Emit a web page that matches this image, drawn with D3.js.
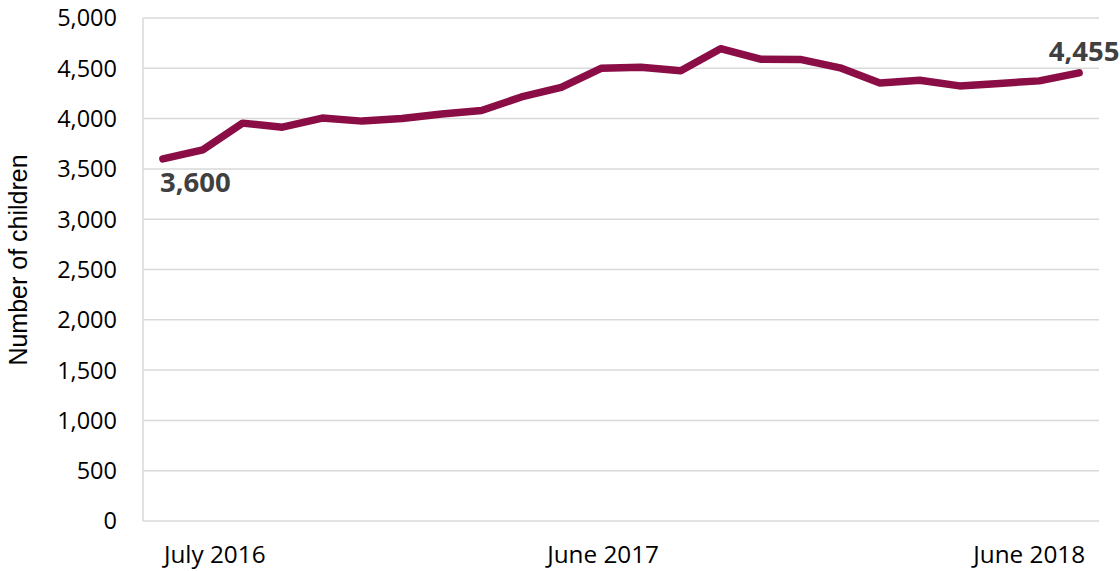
<!DOCTYPE html>
<html>
<head>
<meta charset="utf-8">
<script src="https://cdn.jsdelivr.net/npm/d3@7"></script>
<style>
  html, body { margin: 0; padding: 0; background: #fff; }
  svg { display: block; }
</style>
</head>
<body>
<svg id="chart" width="1120" height="571"></svg>
<script>
// ---- data ----
const months = [
  "Jul 2016","Aug 2016","Sep 2016","Oct 2016","Nov 2016","Dec 2016",
  "Jan 2017","Feb 2017","Mar 2017","Apr 2017","May 2017","Jun 2017",
  "Jul 2017","Aug 2017","Sep 2017","Oct 2017","Nov 2017","Dec 2017",
  "Jan 2018","Feb 2018","Mar 2018","Apr 2018","May 2018","Jun 2018"
];
const children = [
  3600, 3690, 3955, 3915, 4005, 3975,
  4000, 4045, 4080, 4215, 4310, 4500,
  4510, 4475, 4695, 4590, 4588, 4505,
  4355, 4382, 4325, 4350, 4375, 4455
];
const yTicks = [0, 500, 1000, 1500, 2000, 2500, 3000, 3500, 4000, 4500, 5000];
const xLabels = [
  { month: "Jul 2016", text: "July 2016", anchor: "start" },
  { month: "Jun 2017", text: "June 2017", anchor: "middle" },
  { month: "Jun 2018", text: "June 2018", anchor: "end" }
];
const callouts = [
  { month: "Jul 2016", text: "3,600", pos: "below" },
  { month: "Jun 2018", text: "4,455", pos: "above" }
];
const yTitle = "Number of children";

// ---- layout ----
(function () {
const svg = d3.select("#chart");
const pLeft = 143, pRight = 1099, pTop = 18, pBottom = 521;
const lineColor = "#8B0D46";
const gridColor = "#D9D9D9";
const textColor = "#000000";

const x = d3.scaleBand().domain(months).range([pLeft, pRight]);
const cx = m => x(m) + x.bandwidth() / 2;
const y = d3.scaleLinear().domain([0, 5000]).range([pBottom, pTop]);

// gridlines
svg.append("g").selectAll("line").data(yTicks.filter(d => d > 0)).join("line")
  .attr("x1", pLeft).attr("x2", pRight)
  .attr("y1", d => y(d)).attr("y2", d => y(d))
  .attr("stroke", gridColor).attr("stroke-width", 1.5);

// axis lines
svg.append("line").attr("x1", pLeft).attr("x2", pLeft).attr("y1", pTop).attr("y2", pBottom)
  .attr("stroke", gridColor).attr("stroke-width", 1.5);
svg.append("line").attr("x1", pLeft).attr("x2", pRight).attr("y1", pBottom).attr("y2", pBottom)
  .attr("stroke", gridColor).attr("stroke-width", 1.5);

// y tick labels
const fmt = d3.format(",");
svg.append("g").selectAll("text").data(yTicks).join("text")
  .attr("x", 117).attr("y", d => y(d))
  .attr("dy", "0.36em")
  .attr("text-anchor", "end")
  .attr("font-family", "'Open Sans', sans-serif")
  .attr("font-size", 23.5)
  .attr("fill", textColor)
  .text(d => fmt(d));

// x labels
svg.append("g").selectAll("text").data(xLabels).join("text")
  .attr("x", d => d.anchor === "start" ? cx(d.month) + 1 : d.anchor === "end" ? cx(d.month) + 6 : cx(d.month) + 2)
  .attr("y", 563)
  .attr("text-anchor", d => d.anchor)
  .attr("font-family", "'Open Sans', sans-serif")
  .attr("font-size", 24.3)
  .attr("fill", textColor)
  .text(d => d.text);

// y title
svg.append("text")
  .attr("transform", "translate(27,260) rotate(-90)")
  .attr("text-anchor", "middle")
  .attr("font-family", "'Liberation Sans', Arial, sans-serif")
  .attr("font-size", 25)
  .attr("fill", textColor)
  .text(yTitle);

// line
const line = d3.line().x((d, i) => cx(months[i])).y(d => y(d));
svg.append("path").datum(children)
  .attr("d", line)
  .attr("fill", "none")
  .attr("stroke", lineColor)
  .attr("stroke-width", 7.5)
  .attr("stroke-linejoin", "round")
  .attr("stroke-linecap", "round");

// callouts
svg.append("g").selectAll("text").data(callouts).join("text")
  .attr("x", d => d.pos === "below" ? cx(d.month) - 3 : cx(d.month) + 5)
  .attr("y", d => {
    const v = children[months.indexOf(d.month)];
    return d.pos === "below" ? y(v) + 33 : y(v) - 12;
  })
  .attr("text-anchor", d => d.pos === "below" ? "start" : "middle")
  .attr("font-family", "'Open Sans', sans-serif")
  .attr("font-weight", "bold")
  .attr("font-size", 27.5)
  .attr("fill", "#404040")
  .text(d => d.text);
})();
</script>
</body>
</html>
